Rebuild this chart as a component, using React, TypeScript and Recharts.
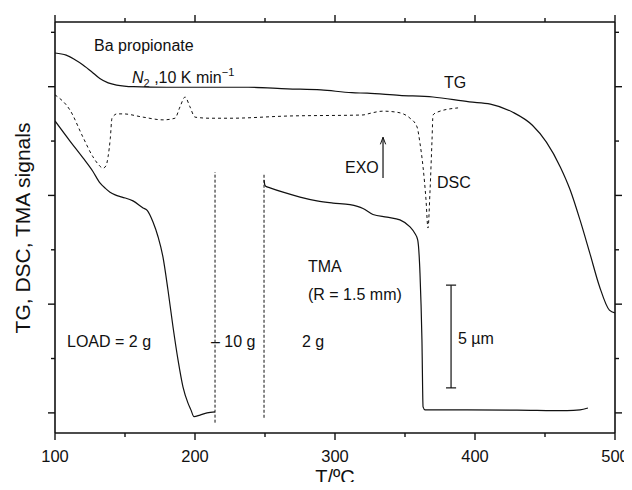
import React from 'react';
import { LineChart, Line, XAxis, YAxis, ReferenceLine } from 'recharts';

// Temperature (°C) / signal (arbitrary units, one unit per tick)
const tgT = [100, 108, 114, 120, 126, 132, 138, 144, 156, 180, 204, 238, 266, 290, 312, 323, 346, 370, 396, 411, 427, 441, 451, 461, 468, 475, 482, 489, 496, 500];
const tgV = [6.62, 6.58, 6.5, 6.4, 6.28, 6.15, 6.07, 6.03, 6.0, 5.99, 5.99, 5.99, 5.96, 5.94, 5.89, 5.88, 5.84, 5.81, 5.72, 5.68, 5.53, 5.29, 4.98, 4.52, 4.1, 3.55, 2.94, 2.32, 1.89, 1.84];

const dscT = [100, 110.7, 120, 127.1, 131, 134.3, 136.5, 137.9, 139.5, 140.7, 144.3, 148.6, 162.9, 177.1, 185.7, 189.3, 192.9, 196.4, 200, 210.7, 225, 265.7, 320, 325, 334.3, 344.3, 353.6, 358.6, 360.7, 362.9, 365, 366.4, 367.9, 369.3, 370, 372.9, 387.9];
const dscV = [5.85, 5.57, 5.07, 4.71, 4.57, 4.5, 4.55, 4.71, 5.05, 5.42, 5.5, 5.5, 5.44, 5.39, 5.42, 5.63, 5.81, 5.63, 5.44, 5.42, 5.42, 5.46, 5.48, 5.51, 5.55, 5.53, 5.42, 5.26, 4.96, 4.52, 3.92, 3.4, 4.1, 5.02, 5.48, 5.53, 5.61];

const tma1T = [100, 110.7, 120, 127.1, 132.1, 136, 139.3, 143, 147.9, 155.7, 162.9, 166, 170, 173.6, 177.1, 180.7, 184.3, 187.9, 191.4, 195, 197, 199.3, 203.6, 208.6, 214.3];
const tma1V = [5.37, 5.0, 4.69, 4.44, 4.23, 4.13, 4.06, 4.01, 3.97, 3.9, 3.77, 3.72, 3.51, 3.24, 2.87, 2.26, 1.58, 0.97, 0.48, 0.18, 0.06, -0.07, -0.04, 0.0, 0.02];

const tma2T = [249.3, 249.8, 250.5, 253.6, 262.9, 275, 287.1, 298.6, 310.7, 320, 327.1, 337.1, 346.4, 353.6, 357.1, 359.1, 360.7, 362.1, 362.9, 364.3, 394.3, 430, 465.7, 475, 480.7];
const tma2V = [4.28, 4.2, 4.17, 4.14, 4.06, 3.97, 3.9, 3.86, 3.83, 3.76, 3.65, 3.6, 3.55, 3.42, 3.3, 3.18, 2.57, 1.34, 0.11, 0.055, 0.055, 0.05, 0.04, 0.055, 0.09];

// Load change markers (T, v top, v bottom)
const loadMarks = [
  { t: 214.3, top: 4.43, bottom: -0.18 },
  { t: 249.3, top: 4.41, bottom: -0.09 },
];
// 5 µm scale bar
const scaleBar = { t: 382.9, top: 2.35, bottom: 0.46, cap: 3.6 };
// EXO arrow
const exoArrow = { t: 334.3, from: 4.32, to: 5.07, headDx: 1.9, headDv: 0.13 };

const xTicks = [100, 150, 200, 250, 300, 350, 400, 450, 500];
const yTicks = [0, 1, 2, 3, 4, 5, 6, 7];
const yDomain: [number, number] = [-0.37, 7.19];

const zip = (ts: number[], vs: number[]) => ts.map((t, i) => ({ t, v: vs[i] }));
const tgData = zip(tgT, tgV);
const dscData = zip(dscT, dscV);
const tma1Data = zip(tma1T, tma1V);
const tma2Data = zip(tma2T, tma2V);

const FONT = '"Liberation Sans", Arial, Helvetica, sans-serif';
const INK = '#111';

const makeXTick = (side: 'bottom' | 'top') => (props: any) => {
  const { x, y, payload } = props;
  const major = payload.value % 100 === 0;
  const len = major ? 7 : 4;
  const dir = side === 'bottom' ? 1 : -1;
  return (
    <g>
      <line x1={x} x2={x} y1={y} y2={y + dir * len} stroke={INK} strokeWidth={1.4} />
      {side === 'bottom' && major && (
        <text x={x} y={y + 29} textAnchor="middle" fontFamily={FONT} fontSize={16.5} fill={INK}>
          {payload.value}
        </text>
      )}
    </g>
  );
};

const makeYTick = (side: 'left' | 'right') => (props: any) => {
  const { x, y, payload } = props;
  const major = payload.value % 2 === 0;
  const len = major ? 7 : 4;
  const dir = side === 'left' ? -1 : 1;
  return (
    <g>
      <line x1={x} x2={x + dir * len} y1={y} y2={y} stroke={INK} strokeWidth={1.4} />
    </g>
  );
};

const txt = { fontFamily: FONT, fontSize: 16, fill: INK } as const;

export default function App() {
  return (
    <div style={{ position: 'relative', width: 632, height: 490, margin: -8, overflow: 'hidden', background: '#fff' }}>
      <LineChart width={632} height={490} margin={{ top: 21, right: 16, bottom: 56, left: 54 }}>
        <XAxis xAxisId="b" dataKey="t" type="number" domain={[100, 500]} ticks={xTicks} orientation="bottom" height={1}
          tickSize={0} tickMargin={0} tickLine={false} tick={makeXTick('bottom')} axisLine={{ stroke: INK, strokeWidth: 1.6 }}
          allowDataOverflow interval={0} />
        <XAxis xAxisId="t" dataKey="t" type="number" domain={[100, 500]} ticks={xTicks} orientation="top" height={1}
          tickSize={0} tickMargin={0} tickLine={false} tick={makeXTick('top')} axisLine={{ stroke: INK, strokeWidth: 1.6 }}
          allowDataOverflow interval={0} />
        <YAxis yAxisId="l" type="number" domain={yDomain} ticks={yTicks} orientation="left" width={1}
          tickSize={0} tickMargin={0} tickLine={false} tick={makeYTick('left')} axisLine={{ stroke: INK, strokeWidth: 1.6 }}
          allowDataOverflow interval={0} />
        <YAxis yAxisId="r" type="number" domain={yDomain} ticks={yTicks} orientation="right" width={1}
          tickSize={0} tickMargin={0} tickLine={false} tick={makeYTick('right')} axisLine={{ stroke: INK, strokeWidth: 1.6 }}
          allowDataOverflow interval={0} />

        <Line xAxisId="b" yAxisId="l" data={tgData} dataKey="v" type="monotone" stroke={INK} strokeWidth={1.2} dot={false} isAnimationActive={false} />
        <Line xAxisId="b" yAxisId="l" data={dscData} dataKey="v" type="monotone" stroke={INK} strokeWidth={1} strokeDasharray="3 3" dot={false} isAnimationActive={false} />
        <Line xAxisId="b" yAxisId="l" data={tma1Data} dataKey="v" type="monotone" stroke={INK} strokeWidth={1.2} dot={false} isAnimationActive={false} />
        <Line xAxisId="b" yAxisId="l" data={tma2Data} dataKey="v" type="monotone" stroke={INK} strokeWidth={1.2} dot={false} isAnimationActive={false} />

        {loadMarks.map((m, i) => (
          <ReferenceLine key={'lm' + i} xAxisId="b" yAxisId="l" ifOverflow="visible"
            segment={[{ x: m.t, y: m.bottom }, { x: m.t, y: m.top }]} stroke={INK} strokeWidth={1} strokeDasharray="3 2" />
        ))}

        <ReferenceLine xAxisId="b" yAxisId="l" ifOverflow="visible"
          segment={[{ x: scaleBar.t, y: scaleBar.bottom }, { x: scaleBar.t, y: scaleBar.top }]} stroke={INK} strokeWidth={1.2} />
        <ReferenceLine xAxisId="b" yAxisId="l" ifOverflow="visible"
          segment={[{ x: scaleBar.t - scaleBar.cap, y: scaleBar.top }, { x: scaleBar.t + scaleBar.cap, y: scaleBar.top }]} stroke={INK} strokeWidth={1.2} />
        <ReferenceLine xAxisId="b" yAxisId="l" ifOverflow="visible"
          segment={[{ x: scaleBar.t - scaleBar.cap, y: scaleBar.bottom }, { x: scaleBar.t + scaleBar.cap, y: scaleBar.bottom }]} stroke={INK} strokeWidth={1.2} />

        <ReferenceLine xAxisId="b" yAxisId="l" ifOverflow="visible"
          segment={[{ x: exoArrow.t, y: exoArrow.from }, { x: exoArrow.t, y: exoArrow.to }]} stroke={INK} strokeWidth={1.2} />
        <ReferenceLine xAxisId="b" yAxisId="l" ifOverflow="visible"
          segment={[{ x: exoArrow.t - exoArrow.headDx, y: exoArrow.to - exoArrow.headDv }, { x: exoArrow.t, y: exoArrow.to }]} stroke={INK} strokeWidth={1} />
        <ReferenceLine xAxisId="b" yAxisId="l" ifOverflow="visible"
          segment={[{ x: exoArrow.t + exoArrow.headDx, y: exoArrow.to - exoArrow.headDv }, { x: exoArrow.t, y: exoArrow.to }]} stroke={INK} strokeWidth={1} />
      </LineChart>

      <svg width={632} height={490} style={{ position: 'absolute', left: 0, top: 0, pointerEvents: 'none' }}>
        <text x={94} y={51} {...txt}>Ba propionate</text>
        <text x={132} y={83} {...txt}>
          <tspan fontStyle="italic">N</tspan>
          <tspan fontSize={11} dy={4}>2</tspan>
          <tspan dy={-4}> ,10 K min</tspan>
          <tspan fontSize={11} dy={-7}>−1</tspan>
        </text>
        <text x={444} y={88} {...txt}>TG</text>
        <text x={345} y={173} {...txt}>EXO</text>
        <text x={437} y={188} {...txt}>DSC</text>
        <text x={308} y={272} {...txt}>TMA</text>
        <text x={308} y={300} {...txt}>(R = 1.5 mm)</text>
        <text x={67} y={347} {...txt}>LOAD = 2 g</text>
        <text x={211} y={347} {...txt}>– 10 g</text>
        <text x={302} y={347} {...txt}>2 g</text>
        <text x={458} y={344} {...txt}>5 µm</text>
        <text x={335} y={484} textAnchor="middle" fontFamily={FONT} fontSize={20} fill={INK}>T/ºC</text>
        <text x={30} y={228} transform="rotate(-90 30 228)" textAnchor="middle" fontFamily={FONT} fontSize={21} fill={INK}>
          TG, DSC, TMA signals
        </text>
      </svg>
    </div>
  );
}
